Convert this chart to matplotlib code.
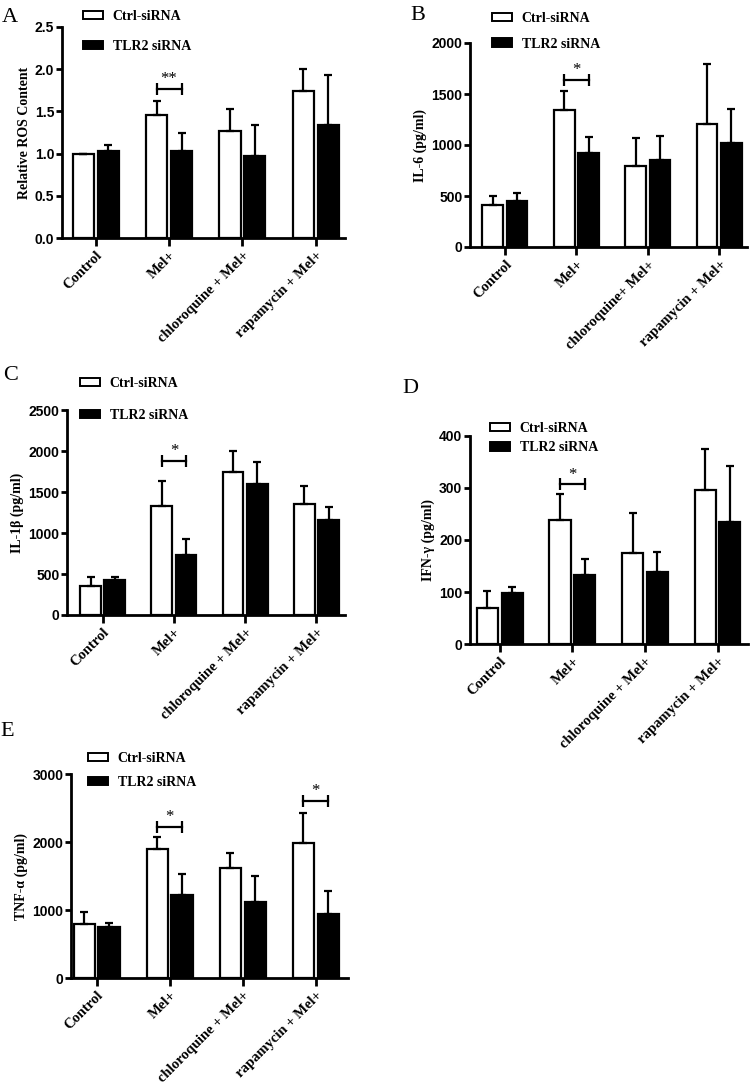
import numpy as np
import matplotlib
matplotlib.use('Agg')
import matplotlib.pyplot as plt
from matplotlib.patches import Patch

# categories
groups = ['Control', 'Mel+', 'chloroquine + Mel+', 'rapamycin + Mel+']
groups_b = ['Control', 'Mel+', 'chloroquine+ Mel+', 'rapamycin + Mel+']
series = ['Ctrl-siRNA', 'TLR2 siRNA']

# A - relative ROS
ros_ctrl = [1.00, 1.46, 1.27, 1.74]
ros_ctrl_err = [0.0, 0.16, 0.26, 0.26]
ros_tlr2 = [1.03, 1.03, 0.97, 1.34]
ros_tlr2_err = [0.07, 0.22, 0.37, 0.59]

# B - IL-6
il6_ctrl = [410, 1345, 795, 1210]
il6_ctrl_err = [90, 185, 275, 585]
il6_tlr2 = [448, 925, 852, 1022]
il6_tlr2_err = [80, 155, 240, 335]

# C - IL-1b
il1b_ctrl = [354, 1330, 1745, 1352]
il1b_ctrl_err = [113, 308, 257, 225]
il1b_tlr2 = [423, 734, 1600, 1156]
il1b_tlr2_err = [40, 194, 263, 167]

# D - IFN-g
ifng_ctrl = [70, 238, 175, 297]
ifng_ctrl_err = [32, 50, 76, 78]
ifng_tlr2 = [99, 133, 139, 235]
ifng_tlr2_err = [10, 31, 38, 108]

# E - TNF-a
tnfa_ctrl = [793, 1894, 1615, 1992]
tnfa_ctrl_err = [171, 186, 230, 431]
tnfa_tlr2 = [749, 1224, 1111, 940]
tnfa_tlr2_err = [59, 303, 382, 342]

# significance: (group index, bracket height, label)
sig_a = [(1, 1.77, '**')]
sig_b = [(1, 1640, '*')]
sig_c = [(1, 1880, '*')]
sig_d = [(1, 307, '*')]
sig_e = [(1, 2225, '*'), (3, 2605, '*')]

serif = 'Liberation Serif'
sans = 'Liberation Sans'
W, H = 750, 1084

fig = plt.figure(figsize=(W / 100, H / 100), dpi=100)

# per panel: letter, letter pos (px), axes box (px: left, top, right, bottom), data, ylabel, yticks, xlim, legend (x, top, spacing)
panels = [
    ('A', (2, 22), (62, 27, 345, 238), groups, ros_ctrl, ros_ctrl_err, ros_tlr2, ros_tlr2_err,
     'Relative ROS Content', np.arange(0, 2.51, 0.5), '%.1f', (-0.46, 3.4), (83, 10, 1.2), sig_a),
    ('B', (410, 20), (470, 43, 747, 247), groups_b, il6_ctrl, il6_ctrl_err, il6_tlr2, il6_tlr2_err,
     'IL-6 (pg/ml)', np.arange(0, 2001, 500), '%d', (-0.49, 3.39), (492, 12, 0.9), sig_b),
    ('C', (3, 380), (67, 410, 345, 615), groups, il1b_ctrl, il1b_ctrl_err, il1b_tlr2, il1b_tlr2_err,
     'IL-1β (pg/ml)', np.arange(0, 2501, 500), '%d', (-0.5, 3.4), (80, 377, 1.35), sig_c),
    ('D', (402, 393), (470, 436, 748, 644), groups, ifng_ctrl, ifng_ctrl_err, ifng_tlr2, ifng_tlr2_err,
     'IFN-γ (pg/ml)', np.arange(0, 401, 100), '%d', (-0.41, 3.42), (490, 422, 0.45), sig_d),
    ('E', (0, 736), (71, 774, 348, 978), groups, tnfa_ctrl, tnfa_ctrl_err, tnfa_tlr2, tnfa_tlr2_err,
     'TNF-α (pg/ml)', np.arange(0, 3001, 1000), '%d', (-0.35, 3.44), (88, 752, 0.8), sig_e),
]

width = 0.29
off = 0.17

for p in panels:
    letter, lpos, box, cats, c, ce, t, te, ylab, yt, fmt, xl, leg, sig = p
    l, top, r, b = box
    ax = fig.add_axes([l / W, 1 - b / H, (r - l) / W, (b - top) / H])
    x = np.arange(len(cats))
    ekw = dict(elinewidth=1.6, capthick=1.6, capsize=3, ecolor='black')
    ax.bar(x - off, c, width, yerr=[np.zeros(4), ce], color='white', edgecolor='black',
           linewidth=1.6, error_kw=ekw, label=series[0])
    ax.bar(x + off, t, width, yerr=[np.zeros(4), te], color='black', edgecolor='black',
           linewidth=1.6, error_kw=ekw, label=series[1])

    for gi, y, s in sig:
        ax.plot([gi - off, gi + off], [y, y], color='black', lw=1.6)
        ax.plot([gi - off, gi + off], [y, y], ls='none', marker='|', ms=8, mew=1.6, color='black')
        ax.annotate(s, (gi, y), xytext=(0, 1), textcoords='offset points', ha='center',
                    va='bottom', fontsize=12, family=serif)

    ax.set_xlim(xl)
    ax.set_ylim(yt[0], yt[-1])
    ax.set_yticks(yt)
    ax.set_yticklabels([fmt % v for v in yt], fontfamily=sans, fontweight='bold', fontsize=10)
    ax.set_xticks(x)
    ax.set_xticklabels(cats, rotation=45, ha='right', rotation_mode='anchor',
                       fontfamily=serif, fontweight='bold', fontsize=10.5)
    ax.set_ylabel(ylab, fontfamily=serif, fontweight='bold', fontsize=10, labelpad=3)
    ax.spines['top'].set_visible(False)
    ax.spines['right'].set_visible(False)
    ax.spines['left'].set_linewidth(2)
    ax.spines['bottom'].set_linewidth(2)
    ax.tick_params(axis='y', length=4, width=2, pad=1.5)
    ax.tick_params(axis='x', length=6, width=2, pad=2)

    handles = [Patch(facecolor='white', edgecolor='black', linewidth=1.4),
               Patch(facecolor='black', edgecolor='black', linewidth=1.4)]
    ax.legend(handles, series, loc='upper left', bbox_to_anchor=(leg[0] / W, 1 - leg[1] / H),
              bbox_transform=fig.transFigure, frameon=False, borderpad=0, borderaxespad=0,
              handlelength=1.45, handleheight=0.55, handletextpad=0.7, labelspacing=leg[2],
              prop=dict(family=serif, weight='bold', size=10))

    fig.text(lpos[0] / W, 1 - lpos[1] / H, letter, fontfamily=serif, fontsize=16, va='baseline')

plt.savefig('out.png', dpi=100)
